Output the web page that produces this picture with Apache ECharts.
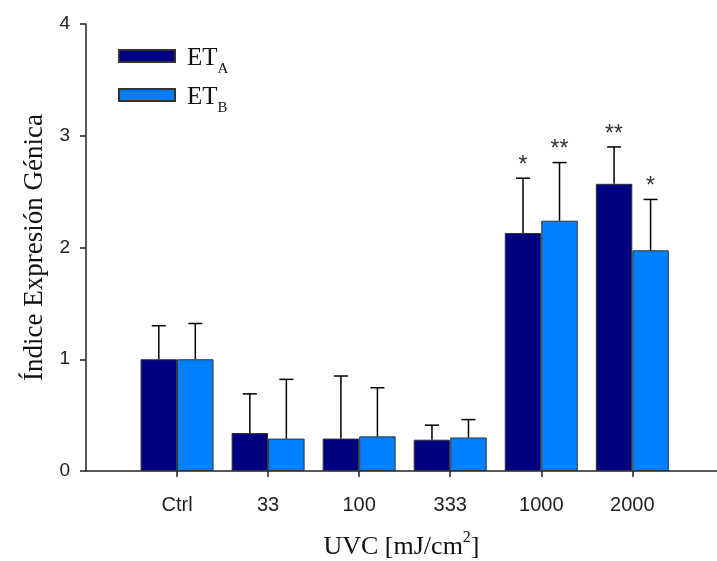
<html>
<head>
<meta http-equiv="Content-Type" content="text/html; charset=UTF-8">
<title>Índice Expresión Génica</title>
<script type="text/javascript" src="https://cdn.jsdelivr.net/npm/echarts@6/dist/echarts.min.js"></script>
<style>
	html, body { margin: 0; padding: 0; background: #fff; }
	#chart { width: 717px; height: 561px; }
</style>
</head>
<body>
	<div id="chart"></div>
	<script type="text/javascript">
		// categorias (dosis UVC)
		var categories = ['Ctrl', '33', '100', '333', '1000', '2000'];
		var xPos = [1, 2, 3, 4, 5, 6];
		// medias
		var meanA = [1.00, 0.34, 0.29, 0.28, 2.13, 2.57];
		var meanB = [1.00, 0.29, 0.31, 0.30, 2.24, 1.975];
		// desviaciones (solo hacia arriba)
		var sdA = [0.30, 0.35, 0.56, 0.13, 0.49, 0.33];
		var sdB = [0.32, 0.53, 0.435, 0.16, 0.52, 0.455];
		// significancia
		var starsA = ['', '', '', '', '*', '**'];
		var starsB = ['', '', '', '', '**', '*'];
		var yTicks = [0, 1, 2, 3, 4];

		var sans = 'Liberation Sans, Arial, sans-serif';
		var serif = 'Liberation Serif, Times New Roman, serif';
		var barW = 36.5;

		function barData(mean) {
			var out = [];
			for (var i = 0; i < mean.length; i++) {
				out.push([xPos[i], mean[i]]);
			}
			return out;
		}

		function errData(mean, sd, stars) {
			var out = [];
			for (var i = 0; i < mean.length; i++) {
				out.push([xPos[i], mean[i], mean[i] + sd[i], stars[i]]);
			}
			return out;
		}

		// barras de error + asteriscos
		function makeErr(side) {
			return function (params, api) {
				var x = api.value(0);
				var p0 = api.coord([x, api.value(1)]);
				var p1 = api.coord([x, api.value(2)]);
				var cx = p0[0] + side * barW / 2;
				var star = api.value(3);
				var children = [
					{ type: 'line', shape: { x1: cx, y1: p0[1], x2: cx, y2: p1[1] },
						style: { stroke: '#000', lineWidth: 1.5 } },
					{ type: 'line', shape: { x1: cx - 7, y1: p1[1], x2: cx + 7, y2: p1[1] },
						style: { stroke: '#000', lineWidth: 1.5 } }
				];
				if (star) {
					children.push({ type: 'text', x: cx, y: p1[1] - 1,
						style: { text: star, fill: '#333', font: '23px ' + sans,
							align: 'center', verticalAlign: 'bottom' } });
				}
				return { type: 'group', children: children };
			};
		}

		var myChart = echarts.init(document.getElementById('chart'));
		var option = {
			animation: false,
			grid: { left: 86, right: 0, top: 24, bottom: 90, outerBoundsMode: 'none' },
			legend: {
				orient: 'vertical',
				left: 113,
				top: 41,
				itemWidth: 56,
				itemHeight: 12,
				itemGap: 8,
				icon: 'rect',
				data: ['ETA', 'ETB'],
				formatter: function (name) {
					return '{m|ET}{s|' + name.slice(2) + '}';
				},
				textStyle: {
					padding: [0, 0, 0, 7],
					rich: {
						m: { fontFamily: serif, fontSize: 25, color: '#111', lineHeight: 30, verticalAlign: 'bottom' },
						s: { fontFamily: serif, fontSize: 15, color: '#111', lineHeight: 15, verticalAlign: 'bottom', padding: [0, 0, -6, 0] }
					}
				}
			},
			xAxis: {
				type: 'value',
				min: 0,
				max: 6.93,
				name: '{t|UVC [mJ/cm}{u|2}{t|]}',
				nameLocation: 'middle',
				nameGap: 59,
				nameTextStyle: {
					rich: {
						t: { fontFamily: serif, fontSize: 26, color: '#111', lineHeight: 30, verticalAlign: 'bottom' },
						u: { fontFamily: serif, fontSize: 16, color: '#111', lineHeight: 30, verticalAlign: 'top' }
					}
				},
				splitLine: { show: false },
				axisLine: { show: true, lineStyle: { color: '#222', width: 1.5 } },
				axisTick: { show: true, length: 6, customValues: xPos, lineStyle: { color: '#222', width: 1.5 } },
				axisLabel: {
					customValues: xPos,
					margin: 24,
					fontFamily: sans, fontSize: 20, color: '#222',
					formatter: function (v) { return categories[Math.round(v) - 1] || ''; }
				}
			},
			yAxis: {
				type: 'value',
				min: 0,
				max: 4,
				interval: 1,
				name: 'Índice Expresión Génica',
				nameLocation: 'middle',
				nameRotate: 90,
				nameGap: 36,
				nameTextStyle: { fontFamily: serif, fontSize: 27, color: '#111' },
				splitLine: { show: false },
				axisLine: { show: true, lineStyle: { color: '#222', width: 1.5 } },
				axisTick: { show: true, length: 6, lineStyle: { color: '#222', width: 1.5 } },
				axisLabel: {
					margin: 16, fontFamily: sans, fontSize: 19, color: '#222',
					formatter: function (v) { return yTicks.indexOf(v) >= 0 ? String(v) : ''; }
				}
			},
			series: [
				{
					name: 'ETA', type: 'bar', barWidth: barW, barGap: '0%',
					itemStyle: { color: '#000080', borderColor: '#333', borderWidth: 1 },
					data: barData(meanA)
				},
				{
					name: 'ETB', type: 'bar', barWidth: barW, barGap: '0%',
					itemStyle: { color: '#0080ff', borderColor: '#333', borderWidth: 1 },
					data: barData(meanB)
				},
				{
					type: 'custom', renderItem: makeErr(-1), z: 5,
					encode: { x: 0, y: 2 },
					data: errData(meanA, sdA, starsA)
				},
				{
					type: 'custom', renderItem: makeErr(1), z: 5,
					encode: { x: 0, y: 2 },
					data: errData(meanB, sdB, starsB)
				}
			]
		};
		myChart.setOption(option);
	</script>
</body>
</html>
